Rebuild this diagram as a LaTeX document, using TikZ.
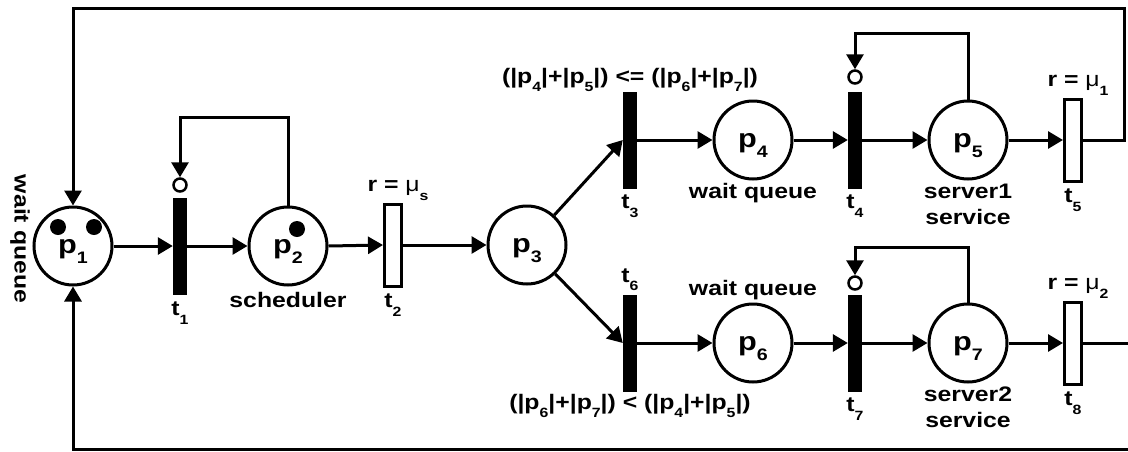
\documentclass[tikz,border=0pt]{standalone}
\usepackage{fontspec}
\setmainfont{Liberation Sans}[FakeStretch=1.18]
\usetikzlibrary{arrows.meta,positioning}
\makeatletter
\newcommand\lsub[1]{\raisebox{-0.42em}{\fontsize{\fpeval{0.64*\f@size}}{0}\selectfont #1}}
\makeatother
\begin{document}
\begin{tikzpicture}[
    x=1pt, y=-1pt,
    place/.style={draw=black, circle, line width=3pt, fill=white, minimum size=78pt,
      inner sep=0pt, text height=14pt, text depth=0pt, font=\fontsize{26}{28}\selectfont\bfseries},
    immed/.style={fill=black, minimum width=14pt, minimum height=97pt, inner sep=0pt},
    timed/.style={draw=black, fill=white, line width=3pt, minimum width=17pt,
      minimum height=82pt, inner sep=0pt},
    inhib/.style={draw=black, circle, fill=white, line width=2.5pt, minimum size=13pt, inner sep=0pt},
    arc/.style={draw=black, line width=3pt, -{Triangle[length=15pt, width=17pt]}},
    lbl/.style={font=\fontsize{21}{26}\selectfont\bfseries, inner sep=1pt, align=center},
  ]
  \useasboundingbox (0,0) rectangle (1128,451);

  % places
  \node[place] (p1) at (73,246) {p\lsub{1}};
  \node[place] (p2) at (288,246) {p\lsub{2}};
  \node[place] (p3) at (527,245) {p\lsub{3}};
  \node[place] (p4) at (753,140) {p\lsub{4}};
  \node[place] (p5) at (968,140) {p\lsub{5}};
  \node[place] (p6) at (753,343) {p\lsub{6}};
  \node[place] (p7) at (968,343) {p\lsub{7}};

  % tokens
  \fill (58,227) circle (8pt);
  \fill (94,227) circle (8pt);
  \fill (297,229) circle (8pt);

  % transitions
  \node[immed] (t1) at (180,246) {};
  \node[timed] (t2) at (393,245) {};
  \node[immed] (t3) at (630,140) {};
  \node[immed] (t4) at (855,140) {};
  \node[timed] (t5) at (1073,140) {};
  \node[immed] (t6) at (630,343) {};
  \node[immed] (t7) at (855,343) {};
  \node[timed] (t8) at (1073,343) {};

  % inhibitor ends
  \node[inhib] (i1) at (180,185) {};
  \node[inhib] (i4) at (855,77) {};
  \node[inhib] (i7) at (855,283) {};

  % labels
  \node[lbl, rotate=-90] (wq1) at (20,239) {wait queue};
  \node[lbl, below=6pt of t1] (lt1) {t\lsub{1}};
  \node[lbl, below=5pt of p2] (ls) {scheduler};
  \node[lbl, below=5pt of t2] (lt2) {t\lsub{2}};
  \node[lbl, above=1pt of t2, xshift=5pt] (rs) {r = {\mdseries μ}\lsub{s}};
  \node[lbl, above=-2pt of t3] (c3) {(|p\lsub{4}|+|p\lsub{5}|) <= (|p\lsub{6}|+|p\lsub{7}|)};
  \node[lbl, below=5pt of t3] (lt3) {t\lsub{3}};
  \node[lbl, below=2pt of p4] (wq4) {wait queue};
  \node[lbl, below=5pt of t4] (lt4) {t\lsub{4}};
  \node[lbl, below=2pt of p5] (sv1) {server1\\service};
  \node[lbl, below=5pt of t5] (lt5) {t\lsub{5}};
  \node[lbl, above=1pt of t5, xshift=5pt] (r1) {r = {\mdseries μ}\lsub{1}};
  \node[lbl, above=2pt of t6] (lt6) {t\lsub{6}};
  \node[lbl, below=1pt of t6] (c6) {(|p\lsub{6}|+|p\lsub{7}|) < (|p\lsub{4}|+|p\lsub{5}|)};
  \node[lbl, above=1pt of p6] (wq6) {wait queue};
  \node[lbl, below=5pt of t7] (lt7) {t\lsub{7}};
  \node[lbl, below=2pt of p7] (sv2) {server2\\service};
  \node[lbl, below=5pt of t8] (lt8) {t\lsub{8}};
  \node[lbl, above=1pt of t8, xshift=5pt] (r2) {r = {\mdseries μ}\lsub{2}};

  % arcs
  \draw[arc] (p1.east) -- (t1.west);
  \draw[arc] (t1.east) -- (p2.west);
  \draw[arc] (p2.east) -- (t2.west);
  \draw[arc] (t2.east) -- (p3.west);
  \draw[arc] (p3) -- (t3.west);
  \draw[arc] (p3) -- (t6.west);
  \draw[arc] (t3.east) -- (p4.west);
  \draw[arc] (p4.east) -- (t4.west);
  \draw[arc] (t4.east) -- (p5.west);
  \draw[arc] (p5.east) -- (t5.west);
  \draw[arc] (t6.east) -- (p6.west);
  \draw[arc] (p6.east) -- (t7.west);
  \draw[arc] (t7.east) -- (p7.west);
  \draw[arc] (p7.east) -- (t8.west);

  % inhibitor feedback
  \draw[arc] (p2.north) -- (p2.north |- 0,117) -| (i1.north);
  \draw[arc] (p5.north) -- (p5.north |- 0,33) -| (i4.north);
  \draw[arc] (p7.north) -- (p7.north |- 0,247) -| (i7.north);

  % return to the wait queue
  \coordinate (ne) at (1124,8);
  \coordinate (se) at (1140,449.5);
  \draw[arc] (t5.east) -| (ne) -| (p1.north);
  \draw[arc] (t8.east) -| (se) -| (p1.south);
\end{tikzpicture}
\end{document}
